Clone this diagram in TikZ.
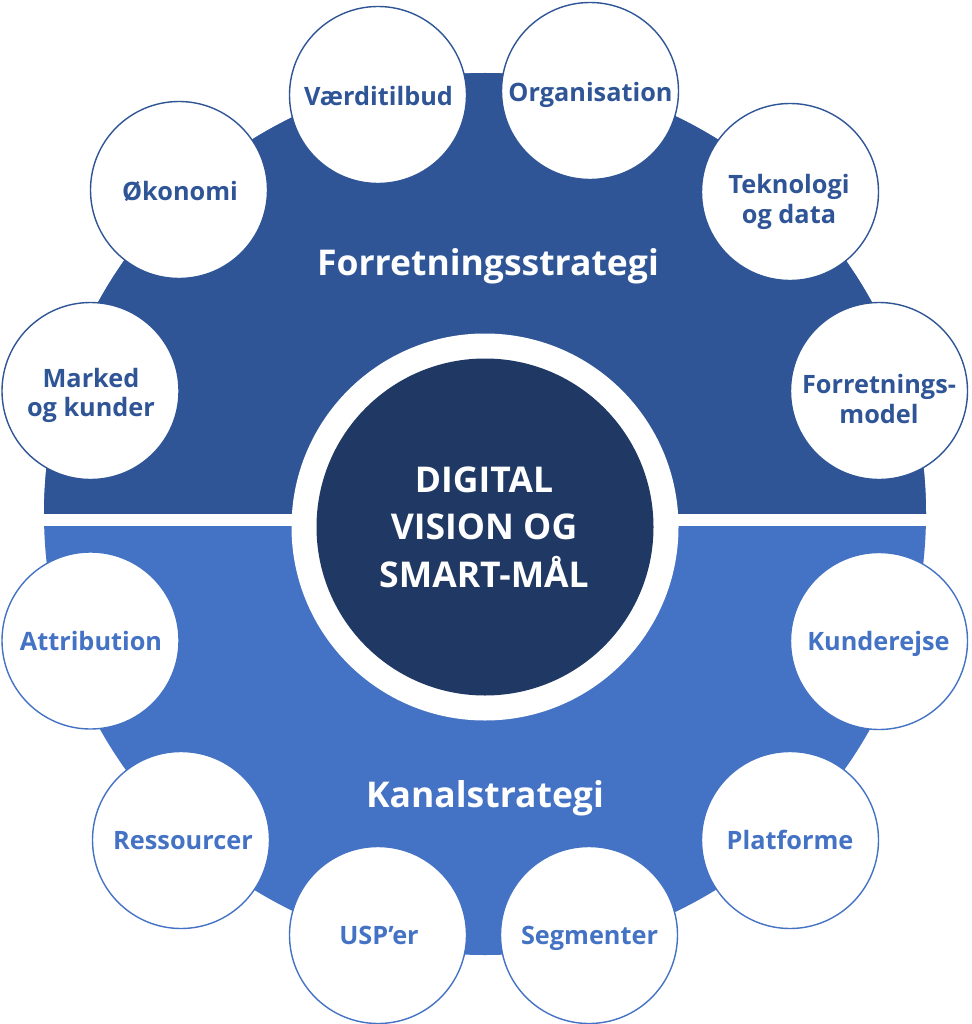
\documentclass[tikz,border=0pt]{standalone}
\usepackage{fontspec}
\setmainfont{Open Sans}
\definecolor{topblue}{HTML}{2F5597}
\definecolor{botblue}{HTML}{4472C4}
\definecolor{navyblue}{HTML}{203864}
\begin{document}
\begin{tikzpicture}[x=1pt,y=-1pt,
  bubble/.style={circle, draw=#1, fill=white, line width=1.4pt, minimum size=177pt, inner sep=0pt},
  blabel/.style={text=#1, font=\fontsize{25.3}{29.5}\selectfont\bfseries, align=center, inner sep=0pt},
  biglabel/.style={text=white, font=\fontsize{35.5}{43}\selectfont\bfseries, inner sep=0pt, anchor=base},
  centerlabel/.style={text=white, font=\fontsize{35.5}{47.5}\selectfont\bfseries, align=center, inner sep=0pt}]
\useasboundingbox (0,0) rectangle (971,1024);
\fill[white] (0,0) rectangle (971,1024);
% big disc
\fill[botblue] (485,514) circle[radius=441pt];
\begin{scope}
  \clip (0,0) rectangle (971,514);
  \fill[topblue] (485,514) circle[radius=441pt];
\end{scope}
\fill[white] (0,514) rectangle (971,526);
% centre
\fill[white] (485,527) circle[radius=193.5pt];
\node[circle, fill=navyblue, minimum size=337pt, inner sep=0pt] (core) at (485,527) {};
\node[centerlabel] (coretext) at (484,527) {DIGITAL\\VISION OG\\SMART-MÅL};
% section titles
\node[biglabel] (fs) at (488,275) {Forretningsstrategi};
\node[biglabel] (ks) at (485,807) {Kanalstrategi};
% top bubbles
\node[bubble=topblue] (b1) at (378,95) {};
\node[bubble=topblue] (b2) at (590,91) {};
\node[bubble=topblue] (b3) at (790,192) {};
\node[bubble=topblue] (b4) at (879,391) {};
\node[bubble=topblue] (b5) at (179,190) {};
\node[bubble=topblue] (b6) at (90.5,391) {};
% bottom bubbles
\node[bubble=botblue] (c1) at (90.5,640.5) {};
\node[bubble=botblue] (c2) at (181,840) {};
\node[bubble=botblue] (c3) at (378,935) {};
\node[bubble=botblue] (c4) at (589,935) {};
\node[bubble=botblue] (c5) at (790,840) {};
\node[bubble=botblue] (c6) at (879,641) {};
% labels
\node[blabel=topblue, anchor=base] (t1) at (378.5,106) {Værditilbud};
\node[blabel=topblue, anchor=base] (t2) at (590.5,102) {Organisation};
\node[blabel=topblue] (t3) at (789,202) {Teknologi\\og data};
\node[blabel=topblue] (t4) at (879,399) {Forretnings-\\model};
\node[blabel=topblue, anchor=base] (t5) at (180,201) {Økonomi};
\node[blabel=topblue] (t6) at (91,395.5) {Marked\\og kunder};
\node[blabel=botblue, anchor=base] (u1) at (91,650) {Attribution};
\node[blabel=botblue, anchor=base] (u2) at (183,849) {Ressourcer};
\node[blabel=botblue, anchor=base] (u3) at (379,944) {USP’er};
\node[blabel=botblue, anchor=base] (u4) at (589.5,944) {Segmenter};
\node[blabel=botblue, anchor=base] (u5) at (790,849) {Platforme};
\node[blabel=botblue, anchor=base] (u6) at (878.5,650) {Kunderejse};
\end{tikzpicture}
\end{document}
